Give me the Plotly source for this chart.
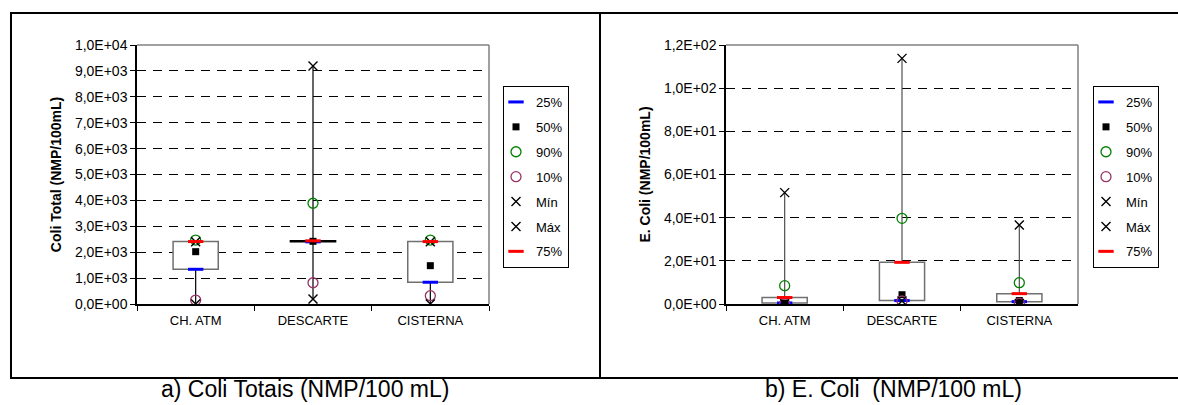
import plotly.graph_objects as go

# ---------------- data ----------------
categories = ["CH. ATM", "DESCARTE", "CISTERNA"]
series_names = ["25%", "50%", "90%", "10%", "Mín", "Máx", "75%"]

# a) Coli Totais (NMP/100 mL)
ct_p25 = [1340, 2400, 840]
ct_p50 = [2020, 2420, 1480]
ct_p90 = [2470, 3890, 2470]
ct_p10 = [150, 820, 320]
ct_min = [0, 190, 0]
ct_max = [2400, 9190, 2400]
ct_p75 = [2410, 2440, 2410]

# b) E. Coli (NMP/100 mL)
ec_p25 = [0.5, 1.6, 1.1]
ec_p50 = [0.4, 4.3, 1.6]
ec_p90 = [8.5, 39.7, 9.9]
ec_p10 = [0.1, 1.4, 0.3]
ec_min = [0.1, 1.4, 0.2]
ec_max = [51.6, 113.8, 36.6]
ec_p75 = [3.0, 19.3, 4.8]

ct_tickvals = [0, 1000, 2000, 3000, 4000, 5000, 6000, 7000, 8000, 9000, 10000]
ct_ticktext = ["0,0E+00", "1,0E+03", "2,0E+03", "3,0E+03", "4,0E+03", "5,0E+03",
               "6,0E+03", "7,0E+03", "8,0E+03", "9,0E+03", "1,0E+04"]
ec_tickvals = [0, 20, 40, 60, 80, 100, 120]
ec_ticktext = ["0,0E+00", "2,0E+01", "4,0E+01", "6,0E+01", "8,0E+01", "1,0E+02", "1,2E+02"]

W, H = 1178, 405
FONT = "Arial, Liberation Sans, sans-serif"

def px_x(p):
    return p / W

def px_y(p):
    return 1 - p / H

fig = go.Figure()

styles = {
    "25%": dict(symbol="line-ew", size=11, color="#0000FF", line=dict(color="#0000FF", width=3)),
    "50%": dict(symbol="square", size=7, color="#000000", line=dict(color="#000000", width=0)),
    "90%": dict(symbol="circle-open", size=10, color="#008000", line=dict(color="#008000", width=1.3)),
    "10%": dict(symbol="circle-open", size=10, color="#993366", line=dict(color="#993366", width=1.3)),
    "Mín": dict(symbol="x-thin-open", size=9, color="#000000", line=dict(color="#000000", width=1.4)),
    "Máx": dict(symbol="x-thin-open", size=9, color="#000000", line=dict(color="#000000", width=1.4)),
    "75%": dict(symbol="line-ew", size=11, color="#FF0000", line=dict(color="#FF0000", width=3)),
}

def add_panel(xa, ya, legend, p25, p50, p90, p10, pmin, pmax, p75, whisker_color, box_line_colors):
    wx, wy = [], []
    for c, lo, q1, q3, hi in zip(categories, pmin, p25, p75, pmax):
        wx += [c, c, None, c, c, None]
        wy += [lo, q1, None, q3, hi, None]
    fig.add_trace(go.Scatter(x=wx, y=wy, mode="lines", line=dict(color=whisker_color, width=1.2),
                             xaxis=xa, yaxis=ya, showlegend=False, hoverinfo="skip"))
    fig.add_trace(go.Bar(x=categories, y=[b - a for a, b in zip(p25, p75)], base=p25, width=0.385,
                         marker=dict(color="white", line=dict(color=box_line_colors, width=1.5)),
                         xaxis=xa, yaxis=ya, showlegend=False, hoverinfo="skip"))
    values = {"25%": p25, "50%": p50, "90%": p90, "10%": p10, "Mín": pmin, "Máx": pmax, "75%": p75}
    for name in series_names:
        fig.add_trace(go.Scatter(x=categories, y=values[name], mode="markers", name=name,
                                 marker=styles[name], xaxis=xa, yaxis=ya, legend=legend,
                                 legendgroup=f"{legend}-{name}"))

add_panel("x", "y", "legend", ct_p25, ct_p50, ct_p90, ct_p10, ct_min, ct_max, ct_p75,
          "#000000", ["#707070", "#000000", "#707070"])
add_panel("x2", "y2", "legend2", ec_p25, ec_p50, ec_p90, ec_p10, ec_min, ec_max, ec_p75,
          "#505050", ["#707070", "#707070", "#707070"])

common_x = dict(type="category", range=[-0.5, 2.5], tickson="boundaries", ticks="outside",
                ticklen=5, tickwidth=1, tickcolor="#000", showline=True, linecolor="#000",
                linewidth=1.5, showgrid=False, zeroline=False, fixedrange=True, automargin=False,
                tickfont=dict(size=13, family=FONT, color="#000"), ticklabelstandoff=4)
common_y = dict(ticks="outside", ticklen=5, tickwidth=1, tickcolor="#000", showline=True,
                linecolor="#000", linewidth=1.5, showgrid=True, gridcolor="#000", gridwidth=1,
                griddash="9px,7px", zeroline=False, fixedrange=True, automargin=False,
                tickfont=dict(size=14, family=FONT, color="#000"))

legend_common = dict(xanchor="left", yanchor="top", bordercolor="#000", borderwidth=1,
                     bgcolor="white", font=dict(size=13, family=FONT), tracegroupgap=5,
                     traceorder="grouped", itemwidth=30, indentation=-8)

fig.update_layout(
    barmode="overlay",
    autosize=False,
    width=W, height=H,
    margin=dict(l=0, r=0, t=0, b=0, pad=0, autoexpand=False),
    paper_bgcolor="white", plot_bgcolor="white",
    font=dict(family=FONT, color="#000"),
    xaxis=dict(domain=[px_x(137), px_x(489)], anchor="y", **common_x),
    yaxis=dict(domain=[px_y(304), px_y(45)], anchor="x", range=[0, 10000],
               tickvals=ct_tickvals, ticktext=ct_ticktext,
               title=dict(text="<b>Coli Total (NMP/100mL)</b>", font=dict(size=14, family=FONT),
                          standoff=10),
               **common_y),
    xaxis2=dict(domain=[px_x(726), px_x(1078)], anchor="y2", **common_x),
    yaxis2=dict(domain=[px_y(304), px_y(45)], anchor="x2", range=[0, 120],
                tickvals=ec_tickvals, ticktext=ec_ticktext,
                title=dict(text="<b>E. Coli (NMP/100mL)</b>", font=dict(size=14, family=FONT),
                           standoff=10),
                **common_y),
    legend=dict(x=px_x(503), y=px_y(86), **legend_common),
    legend2=dict(x=px_x(1093), y=px_y(86), **legend_common),
    showlegend=True,
)

shapes = []
for xr, yr in (("x domain", "y domain"), ("x2 domain", "y2 domain")):
    shapes.append(dict(type="line", xref=xr, yref=yr, x0=0, x1=1, y0=1, y1=1,
                       line=dict(color="#808080", width=1.5), layer="above"))
    shapes.append(dict(type="line", xref=xr, yref=yr, x0=1, x1=1, y0=0, y1=1,
                       line=dict(color="#808080", width=1.5), layer="above"))
shapes.append(dict(type="rect", xref="paper", yref="paper", x0=px_x(11), x1=px_x(600),
                   y0=px_y(378), y1=px_y(13), line=dict(color="#000", width=2)))
shapes.append(dict(type="rect", xref="paper", yref="paper", x0=px_x(600), x1=px_x(1190),
                   y0=px_y(378), y1=px_y(13), line=dict(color="#000", width=2)))
fig.update_layout(shapes=shapes)

fig.add_annotation(text="a) Coli Totais (NMP/100 mL)", xref="paper", yref="paper",
                   x=px_x(305), y=px_y(404), xanchor="center", yanchor="bottom",
                   showarrow=False, font=dict(size=23, family=FONT, color="#000"))
fig.add_annotation(text="b) E. Coli\u00a0 (NMP/100 mL)", xref="paper", yref="paper",
                   x=px_x(894), y=px_y(404), xanchor="center", yanchor="bottom",
                   showarrow=False, font=dict(size=23, family=FONT, color="#000"))

fig.write_html("out.html", config={"responsive": False, "displayModeBar": False},
               post_script="document.body.style.margin='0';document.body.style.overflow='hidden';")
